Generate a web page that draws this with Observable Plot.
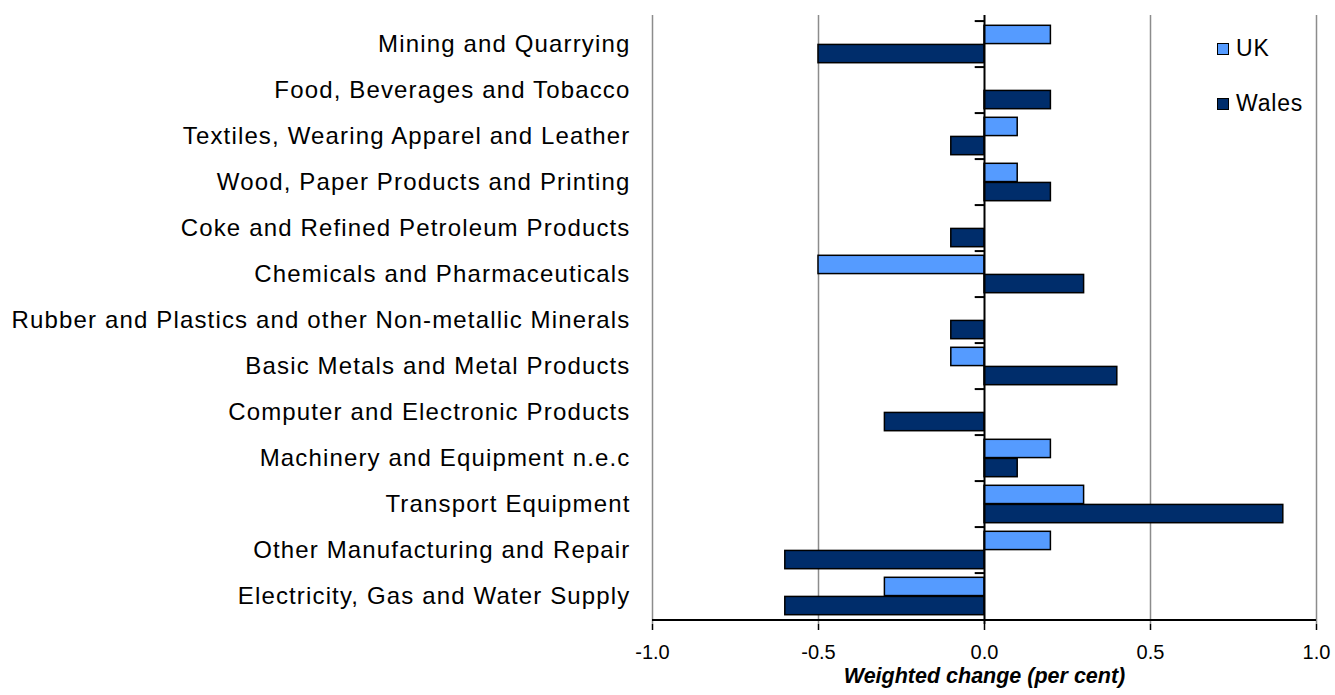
<!DOCTYPE html>
<html>
<head>
<meta charset="utf-8">
<script src="https://cdn.jsdelivr.net/npm/d3@7"></script>
<script src="https://cdn.jsdelivr.net/npm/@observablehq/plot@0.6"></script>
<style>
  body { margin: 0; background: #fff; font-family: "Liberation Sans", Arial, sans-serif; }
  #wrap { position: relative; width: 1335px; height: 695px; }
  #wrap svg g[aria-label="y-axis tick label"] text { letter-spacing: 1.15px; }
  .legend { position: absolute; left: 1217px; top: 0; font-size: 23px; letter-spacing: 0.8px; color: #000; }
  .legend .item { position: absolute; left: 0; display: flex; align-items: center; white-space: nowrap; }
  .legend .sw { width: 10px; height: 10px; border: 1.5px solid #000; margin-right: 7px; }
</style>
</head>
<body>
<div id="wrap"></div>
<script>
const categories = [
  "Mining and Quarrying",
  "Food, Beverages and Tobacco",
  "Textiles, Wearing Apparel and Leather",
  "Wood, Paper Products and Printing",
  "Coke and Refined Petroleum Products",
  "Chemicals and Pharmaceuticals",
  "Rubber and Plastics and other Non-metallic Minerals",
  "Basic Metals and Metal Products",
  "Computer and Electronic Products",
  "Machinery and Equipment n.e.c",
  "Transport Equipment",
  "Other Manufacturing and Repair",
  "Electricity, Gas and Water Supply"
];
const ukValues    = [0.2, 0, 0.1, 0.1, 0, -0.5, 0, -0.1, 0, 0.2, 0.3, 0.2, -0.3];
const walesValues = [-0.5, 0.2, -0.1, 0.2, -0.1, 0.3, -0.1, 0.4, -0.3, 0.1, 0.9, -0.6, -0.6];
const xTicks = [-1.0, -0.5, 0.0, 0.5, 1.0];
const gridTicks = [-1.0, -0.5, 0.5, 1.0];
const seriesNames = ["UK", "Wales"];
const seriesColors = ["#559BFF", "#002D6B"];
const xLabel = "Weighted change (per cent)";

const W = 1335, H = 695, mTop = 15, mBottom = 71, mLeft = 652, mRight = 19;
const bw = (H - mTop - mBottom) / categories.length;
const outerPad = 4.3;

const uk = categories.map((c, i) => ({category: c, value: ukValues[i]})).filter(d => d.value !== 0);
const wales = categories.map((c, i) => ({category: c, value: walesValues[i]})).filter(d => d.value !== 0);
const fmt = d => d3.format(".1f")(d).replace("\u2212", "-");

const chart = Plot.plot({
  width: W, height: H,
  marginTop: mTop, marginBottom: mBottom, marginLeft: mLeft, marginRight: mRight,
  style: {fontFamily: "'Liberation Sans', Arial, sans-serif", color: "#000", background: "#fff"},
  x: {domain: [-1, 1]},
  y: {domain: categories, padding: 0},
  marks: [
    Plot.ruleX(gridTicks, {stroke: "#8c8c8c", strokeWidth: 1.5}),
    Plot.barX(uk, {x: "value", y: "category", fill: seriesColors[0], stroke: "#000", strokeWidth: 1.5,
      insetTop: outerPad, insetBottom: bw / 2}),
    Plot.barX(wales, {x: "value", y: "category", fill: seriesColors[1], stroke: "#000", strokeWidth: 1.5,
      insetTop: bw / 2, insetBottom: outerPad}),
    Plot.ruleY(categories, {y: d => d, x1: -0.028, x2: 0, dy: -bw / 2, stroke: "#000", strokeWidth: 2}),
    Plot.ruleX([0], {stroke: "#000", strokeWidth: 2}),
    Plot.ruleY(categories.slice(-1), {y: d => d, x1: -1, x2: 1, dy: bw / 2, stroke: "#000", strokeWidth: 2}),
    Plot.axisY({tickSize: 0, tickPadding: 22, fontSize: 24, label: null}),
    Plot.axisX({ticks: xTicks, tickFormat: fmt, tickSize: 6, tickPadding: 14, fontSize: 20, label: null, strokeWidth: 1.5}),
    Plot.text([xLabel], {frameAnchor: "bottom", dy: 58, fontSize: 21.5, fontWeight: "bold", fontStyle: "italic", fill: "#000"})
  ]
});

const wrap = document.getElementById("wrap");
wrap.appendChild(chart);

const legend = document.createElement("div");
legend.className = "legend";
seriesNames.forEach((name, i) => {
  const item = document.createElement("div");
  item.className = "item";
  item.style.top = (i === 0 ? 35 : 90) + "px";
  const sw = document.createElement("div");
  sw.className = "sw";
  sw.style.background = seriesColors[i];
  const t = document.createElement("span");
  t.textContent = name;
  item.appendChild(sw);
  item.appendChild(t);
  legend.appendChild(item);
});
wrap.appendChild(legend);
</script>
</body>
</html>
